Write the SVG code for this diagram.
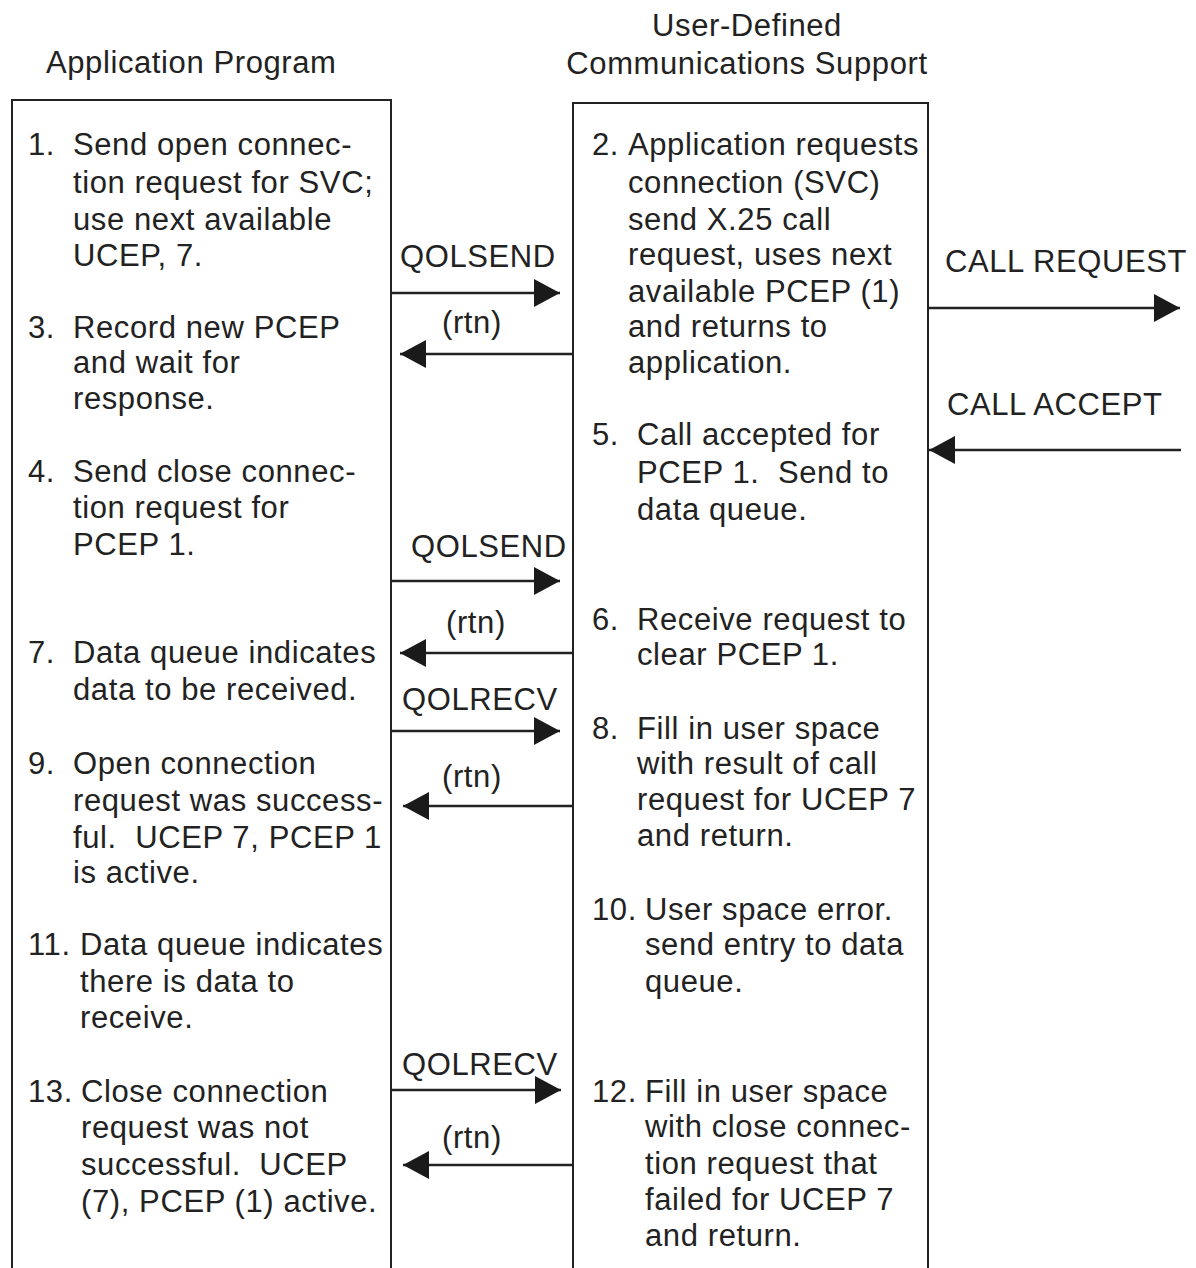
<svg xmlns="http://www.w3.org/2000/svg" width="1196" height="1268" viewBox="0 0 1196 1268">
<style>
text { font-family: "Liberation Sans", Arial, sans-serif; font-size: 31px; fill: #222; letter-spacing: 0.6px; white-space: pre; }
.box { fill: none; stroke: #222; stroke-width: 2; }
.conn { stroke: #222; stroke-width: 2.5; fill: none; marker-end: url(#arrow); }
</style>
<defs>
<marker id="arrow" markerUnits="userSpaceOnUse" markerWidth="27" markerHeight="29" refX="26" refY="14" orient="auto">
<path d="M0,0 L26,14 L0,28 Z" fill="#1a1a1a"/>
</marker>
</defs>
<rect width="1196" height="1268" fill="#fff"/>

<g id="application-program">
<text x="46" y="73">Application Program</text>
<path class="box" d="M12,1270 V100 H391 V1270"/>
</g>

<g id="udcs">
<text x="747" y="36" text-anchor="middle">User-Defined</text>
<text x="747" y="74" text-anchor="middle">Communications Support</text>
<path class="box" d="M573,1270 V103 H928 V1270"/>
</g>

<g id="step1"><text x="28" y="155">1.</text><text x="73" y="155">Send open connec-</text><text x="73" y="193">tion request for SVC;</text><text x="73" y="230">use next available</text><text x="73" y="266">UCEP, 7.</text></g>
<g id="step3"><text x="28" y="338">3.</text><text x="73" y="338">Record new PCEP</text><text x="73" y="373">and wait for</text><text x="73" y="409">response.</text></g>
<g id="step4"><text x="28" y="482">4.</text><text x="73" y="482">Send close connec-</text><text x="73" y="518">tion request for</text><text x="73" y="555">PCEP 1.</text></g>
<g id="step7"><text x="28" y="663">7.</text><text x="73" y="663">Data queue indicates</text><text x="73" y="700">data to be received.</text></g>
<g id="step9"><text x="28" y="774">9.</text><text x="73" y="774">Open connection</text><text x="73" y="811">request was success-</text><text x="73" y="848">ful.  UCEP 7, PCEP 1</text><text x="73" y="883">is active.</text></g>
<g id="step11"><text x="28" y="955">11.</text><text x="80" y="955">Data queue indicates</text><text x="80" y="992">there is data to</text><text x="80" y="1028">receive.</text></g>
<g id="step13"><text x="28" y="1102">13.</text><text x="81" y="1102">Close connection</text><text x="81" y="1138">request was not</text><text x="81" y="1175">successful.  UCEP</text><text x="81" y="1212">(7), PCEP (1) active.</text></g>

<g id="step2"><text x="592" y="155">2.</text><text x="628" y="155">Application requests</text><text x="628" y="193">connection (SVC)</text><text x="628" y="230">send X.25 call</text><text x="628" y="265">request, uses next</text><text x="628" y="302">available PCEP (1)</text><text x="628" y="337">and returns to</text><text x="628" y="373">application.</text></g>
<g id="step5"><text x="592" y="445">5.</text><text x="637" y="445">Call accepted for</text><text x="637" y="483">PCEP 1.  Send to</text><text x="637" y="520">data queue.</text></g>
<g id="step6"><text x="592" y="630">6.</text><text x="637" y="630">Receive request to</text><text x="637" y="665">clear PCEP 1.</text></g>
<g id="step8"><text x="592" y="739">8.</text><text x="637" y="739">Fill in user space</text><text x="637" y="774">with result of call</text><text x="637" y="810">request for UCEP 7</text><text x="637" y="846">and return.</text></g>
<g id="step10"><text x="592" y="920">10.</text><text x="645" y="920">User space error.</text><text x="645" y="955">send entry to data</text><text x="645" y="992">queue.</text></g>
<g id="step12"><text x="592" y="1102">12.</text><text x="645" y="1102">Fill in user space</text><text x="645" y="1137">with close connec-</text><text x="645" y="1174">tion request that</text><text x="645" y="1210">failed for UCEP 7</text><text x="645" y="1246">and return.</text></g>

<g id="connectors">
<line class="conn" x1="391" y1="293" x2="560" y2="293"/>
<text x="400" y="267">QOLSEND</text>
<line class="conn" x1="573" y1="354" x2="400" y2="354"/>
<text x="442" y="333">(rtn)</text>
<line class="conn" x1="391" y1="581" x2="560" y2="581"/>
<text x="411" y="557">QOLSEND</text>
<line class="conn" x1="573" y1="653" x2="400" y2="653"/>
<text x="446" y="633">(rtn)</text>
<line class="conn" x1="391" y1="731" x2="560" y2="731"/>
<text x="402" y="710">QOLRECV</text>
<line class="conn" x1="573" y1="806" x2="403" y2="806"/>
<text x="442" y="787">(rtn)</text>
<line class="conn" x1="391" y1="1090" x2="561" y2="1090"/>
<text x="402" y="1075">QOLRECV</text>
<line class="conn" x1="573" y1="1165" x2="403" y2="1165"/>
<text x="442" y="1148">(rtn)</text>
<line class="conn" x1="928" y1="308" x2="1180" y2="308"/>
<text x="945" y="272">CALL REQUEST</text>
<line class="conn" x1="1181" y1="450" x2="929" y2="450"/>
<text x="947" y="415">CALL ACCEPT</text>
</g>
</svg>
